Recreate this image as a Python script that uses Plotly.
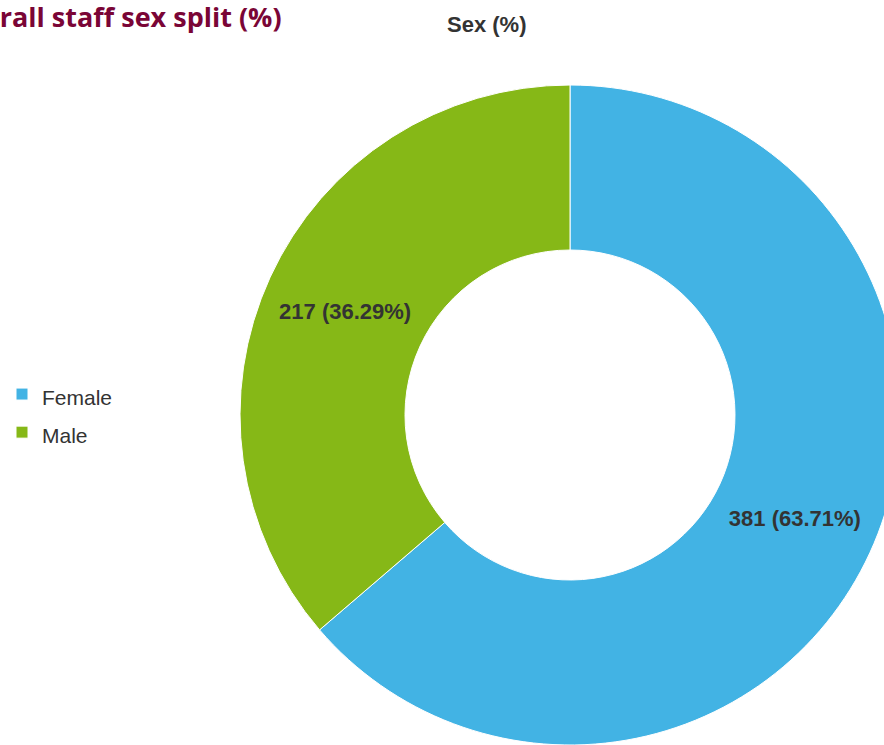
import plotly.graph_objects as go

# Staff headcount by sex
labels = ["Female", "Male"]
counts = [381, 217]
colors = ["#42b3e4", "#86b817"]

# Canvas is a little larger than the viewport so the ring runs off the right/bottom edge
W, H = 910, 770
cx, cy, r = 570, 415, 330  # ring centre and outer radius in pixels


def px(x):
    return x / W


def py(y):
    return 1 - y / H


# Legend rows are spaced by the legend font size; the visible text is set a bit smaller
legend_labels = [f"<span style='font-size:21px'>{name}</span>" for name in labels]

fig = go.Figure(
    go.Pie(
        labels=legend_labels,
        values=counts,
        hole=0.5,
        sort=False,
        direction="clockwise",
        rotation=0,
        marker=dict(colors=colors, line=dict(color="#ffffff", width=1)),
        texttemplate="<b>%{value} (%{percent:.2%})</b>",
        textposition="inside",
        insidetextorientation="horizontal",
        textfont=dict(family="Liberation Sans, Arial", size=22, color="#333333"),
        hoverinfo="label+value+percent",
        domain=dict(x=[px(cx - r), px(cx + r)], y=[(H - cy - r) / H, (H - cy + r) / H]),
    )
)

fig.update_layout(
    width=W,
    height=H,
    margin=dict(l=0, r=0, t=0, b=0),
    paper_bgcolor="#ffffff",
    plot_bgcolor="#ffffff",
    showlegend=True,
    legend=dict(
        x=px(2),
        y=py(370),
        xanchor="left",
        yanchor="top",
        font=dict(family="Liberation Sans, Arial", size=27, color="#333333"),
        bgcolor="rgba(0,0,0,0)",
    ),
    annotations=[
        dict(
            text="<b>Sex (%)</b>",
            x=px(486),
            y=py(24),
            xref="paper",
            yref="paper",
            xanchor="center",
            yanchor="middle",
            showarrow=False,
            font=dict(family="Liberation Sans, Arial", size=22, color="#333333"),
        ),
        dict(
            text="<b>Overall staff sex split (%)</b>",
            x=px(284),
            y=py(16),
            xref="paper",
            yref="paper",
            xanchor="right",
            yanchor="middle",
            showarrow=False,
            font=dict(family="Open Sans", size=27, color="#7a0536"),
        ),
    ],
)

fig.write_html(
    "out.html",
    post_script="document.documentElement.style.overflow='hidden';document.body.style.overflow='hidden';",
)
